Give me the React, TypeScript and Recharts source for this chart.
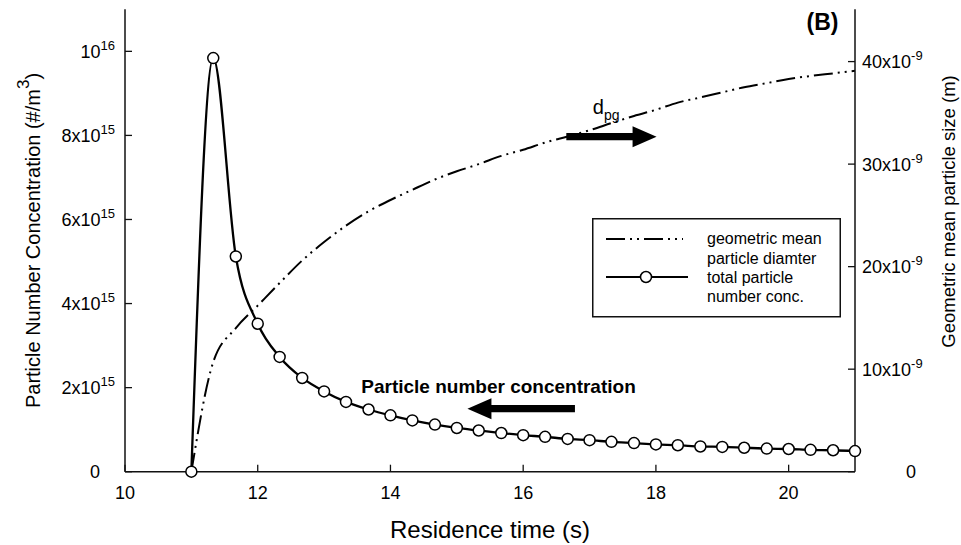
import React from 'react';
import {
  ComposedChart,
  Line,
  XAxis,
  YAxis,
  Legend,
  ReferenceLine,
  ReferenceDot,
} from 'recharts';

// ---- data ----
// residence time (s)
const times = [
  11, 11.33, 11.67, 12, 12.33, 12.67, 13, 13.33, 13.67, 14, 14.33, 14.67, 15, 15.33, 15.67,
  16, 16.33, 16.67, 17, 17.33, 17.67, 18, 18.33, 18.67, 19, 19.33, 19.67, 20, 20.33, 20.67, 21,
];
// total particle number concentration, x10^15 #/m3
const numberConc = [
  0, 9.84, 5.12, 3.52, 2.73, 2.23, 1.91, 1.66, 1.48, 1.34, 1.22, 1.12, 1.04, 0.98, 0.92,
  0.87, 0.83, 0.78, 0.75, 0.71, 0.68, 0.65, 0.63, 0.6, 0.59, 0.57, 0.55, 0.54, 0.52, 0.51, 0.49,
];
// geometric mean particle diameter, x10^-9 m
const meanDiameter = [
  0, 10.7, 14.0, 16.2, 18.4, 20.6, 22.4, 24.0, 25.4, 26.5, 27.5, 28.5, 29.3, 30.0, 30.8,
  31.4, 32.1, 32.7, 33.3, 34.0, 34.7, 35.3, 36.0, 36.5, 37.0, 37.5, 37.9, 38.3, 38.6, 38.85, 39.1,
];

// ---- ticks ----
const xTicks = [10, 12, 14, 16, 18, 20];
const leftTicks = [0, 2, 4, 6, 8, 10];
const leftTickBase = ['0', '2x10', '4x10', '6x10', '8x10', '10'];
const leftTickExp = ['', '15', '15', '15', '15', '16'];
const rightTicks = [0, 10, 20, 30, 40];
const rightTickBase = ['0', '10x10', '20x10', '30x10', '40x10'];
const rightTickExp = ['', '-9', '-9', '-9', '-9'];

// ---- annotations (data coordinates) ----
const concArrow = [
  { x: 16.78, y: 1.5 },
  { x: 15.16, y: 1.5 },
];
const dpgArrow = [
  { x: 16.65, y: 7.97 },
  { x: 18.01, y: 7.97 },
];
const concText = { x: 13.56, y: 1.864, text: 'Particle number concentration' };
const dpgText = { x: 17.05, y: 8.51, main: 'd', sub: 'pg' };
const panelText = { x: 20.75, y: 10.5, text: '(B)' };

const legendLines1 = ['geometric mean', 'particle diamter'];
const legendLines2 = ['total particle', 'number conc.'];

const FONT = '"Liberation Sans", Arial, Helvetica, sans-serif';
const DASH = '19 5 2 5 2 5';

const data = times.map((t, i) => ({ t, conc: numberConc[i], dpg: meanDiameter[i] }));

const LeftTick = (props: any) => {
  const { x, y, payload } = props;
  const i = leftTicks.indexOf(payload.value);
  if (i < 0) return null;
  const base = leftTickBase[i];
  const exp = leftTickExp[i];
  if (!exp) {
    return (
      <text x={x - 15} y={y + 6.4} textAnchor="end" fontSize={18} fontFamily={FONT} fill="#000">
        {base}
      </text>
    );
  }
  return (
    <text x={x} y={y + 6.4} textAnchor="end" fontSize={18} fontFamily={FONT} fill="#000">
      {base}
      <tspan fontSize={13} dy={-7.7}>
        {exp}
      </tspan>
    </text>
  );
};

const RightTick = (props: any) => {
  const { x, y, payload } = props;
  const i = rightTicks.indexOf(payload.value);
  if (i < 0) return null;
  const base = rightTickBase[i];
  const exp = rightTickExp[i];
  if (!exp) {
    return (
      <text x={x + 49} y={y + 6.4} textAnchor="middle" fontSize={18} fontFamily={FONT} fill="#000">
        {base}
      </text>
    );
  }
  return (
    <text x={x} y={y + 6.4} textAnchor="start" fontSize={18} fontFamily={FONT} fill="#000">
      {base}
      <tspan fontSize={13} dy={-7.7}>
        {exp}
      </tspan>
    </text>
  );
};

const BottomTick = (props: any) => {
  const { x, y, payload } = props;
  return (
    <text x={x} y={y + 12.9} textAnchor="middle" fontSize={18} fontFamily={FONT} fill="#000">
      {payload.value}
    </text>
  );
};

const LeftTitle = (props: any) => {
  const vb = props.viewBox || { x: 25, y: 9.3, width: 100, height: 462.4 };
  const cx = vb.x + 15;
  const cy = vb.y + vb.height / 2;
  return (
    <text
      transform={`translate(${cx}, ${cy}) rotate(-90)`}
      x={0}
      y={0}
      textAnchor="middle"
      fontSize={20}
      fontFamily={FONT}
      fill="#000"
    >
      Particle Number Concentration (#/m
      <tspan fontSize={17} dy={-11}>
        3
      </tspan>
      <tspan dy={11}>)</tspan>
    </text>
  );
};

const RightTitle = (props: any) => {
  const vb = props.viewBox || { x: 855, y: 9.3, width: 100, height: 462.4 };
  const cx = vb.x + 100;
  const cy = vb.y + vb.height / 2 - 29;
  return (
    <text
      transform={`translate(${cx}, ${cy}) rotate(-90)`}
      x={0}
      y={0}
      textAnchor="middle"
      fontSize={18.5}
      fontFamily={FONT}
      fill="#000"
    >
      Geometric mean particle size (m)
    </text>
  );
};

const BottomTitle = (props: any) => {
  const vb = props.viewBox || { x: 125, y: 471.7, width: 730, height: 60 };
  return (
    <text
      x={vb.x + vb.width / 2}
      y={vb.y + 66.6}
      textAnchor="middle"
      fontSize={24}
      fontFamily={FONT}
      fill="#000"
    >
      Residence time (s)
    </text>
  );
};

const ArrowShape = (props: any) => {
  const { x1, y1, x2, y2 } = props;
  if ([x1, y1, x2, y2].some((v) => typeof v !== 'number' || isNaN(v))) return null;
  const dir = Math.sign(x2 - x1) || 1;
  const head = 24;
  const hh = 10.5;
  const sh = 3.7;
  const bx = x2 - dir * head;
  const pts = [
    [x1, y1 - sh],
    [bx, y1 - sh],
    [bx, y1 - hh],
    [x2, y2],
    [bx, y1 + hh],
    [bx, y1 + sh],
    [x1, y1 + sh],
  ]
    .map((p) => p.join(','))
    .join(' ');
  return <polygon points={pts} fill="#000" stroke="none" />;
};

const ConcLabel = (props: any) => (
  <text x={props.cx} y={props.cy} fontSize={19} fontWeight="bold" fontFamily={FONT} fill="#000">
    {concText.text}
  </text>
);

const DpgLabel = (props: any) => (
  <text x={props.cx} y={props.cy} fontSize={20} fontFamily={FONT} fill="#000">
    {dpgText.main}
    <tspan fontSize={14} dy={6}>
      {dpgText.sub}
    </tspan>
  </text>
);

const PanelLabel = (props: any) => (
  <text
    x={props.cx}
    y={props.cy}
    textAnchor="end"
    fontSize={23}
    fontWeight="bold"
    fontFamily={FONT}
    fill="#000"
  >
    {panelText.text}
  </text>
);

const LegendBox = () => (
  <svg width={250} height={100} style={{ display: 'block', overflow: 'visible' }}>
    <rect x={0.75} y={0.75} width={247.5} height={98} fill="#fff" stroke="#111" strokeWidth={1.5} />
    <line x1={14} x2={91} y1={21} y2={21} stroke="#000" strokeWidth={2} strokeDasharray={DASH} />
    <line x1={14} x2={96} y1={59} y2={59} stroke="#000" strokeWidth={2} />
    <circle cx={54} cy={59} r={5.5} fill="#fff" stroke="#000" strokeWidth={1.5} />
    <text x={115} y={26} fontSize={16} fontFamily={FONT} fill="#000">
      {legendLines1[0]}
    </text>
    <text x={115} y={46} fontSize={16} fontFamily={FONT} fill="#000">
      {legendLines1[1]}
    </text>
    <text x={115} y={64.5} fontSize={16} fontFamily={FONT} fill="#000">
      {legendLines2[0]}
    </text>
    <text x={115} y={84} fontSize={16} fontFamily={FONT} fill="#000">
      {legendLines2[1]}
    </text>
  </svg>
);

export default function App() {
  const axisLine = { stroke: '#111', strokeWidth: 1.5 };
  const tickLine = { stroke: '#111', strokeWidth: 1.3 };
  return (
    <div
      style={{
        position: 'absolute',
        left: 0,
        top: 0,
        width: 961,
        height: 545,
        background: '#fff',
        fontFamily: FONT,
      }}
    >
      <ComposedChart
        width={961}
        height={545}
        data={data}
        margin={{ top: 9.3, right: 6, bottom: 13.3, left: 25 }}
      >
        <XAxis
          dataKey="t"
          type="number"
          domain={[10, 21]}
          ticks={xTicks}
          interval={0}
          height={60}
          tickSize={-7}
          tickMargin={21}
          axisLine={axisLine}
          tickLine={tickLine}
          tick={<BottomTick />}
          label={<BottomTitle />}
        />
        <XAxis
          xAxisId="top"
          orientation="top"
          type="number"
          domain={[10, 21]}
          height={0}
          tick={false}
          tickLine={false}
          axisLine={axisLine}
        />
        <YAxis
          yAxisId="left"
          type="number"
          domain={[0, 11]}
          ticks={leftTicks}
          interval={0}
          width={100}
          tickSize={-7}
          tickMargin={17}
          axisLine={axisLine}
          tickLine={tickLine}
          tick={<LeftTick />}
          label={<LeftTitle />}
        />
        <YAxis
          yAxisId="right"
          orientation="right"
          type="number"
          domain={[0, 45.1]}
          ticks={rightTicks}
          interval={0}
          width={100}
          tickSize={-7}
          tickMargin={14}
          axisLine={axisLine}
          tickLine={tickLine}
          tick={<RightTick />}
          label={<RightTitle />}
        />
        <Legend
          layout="horizontal"
          align="center"
          verticalAlign="middle"
          content={<LegendBox />}
          wrapperStyle={{ left: 592, top: 218, width: 250, height: 100 }}
        />
        <Line
          yAxisId="right"
          dataKey="dpg"
          name="geometric mean particle diamter"
          type="monotone"
          stroke="#000"
          strokeWidth={2}
          strokeDasharray={DASH}
          dot={false}
          activeDot={false}
          isAnimationActive={false}
        />
        <Line
          yAxisId="left"
          dataKey="conc"
          name="total particle number conc."
          type="monotone"
          stroke="#000"
          strokeWidth={2.3}
          dot={{ r: 5.5, fill: '#fff', stroke: '#000', strokeWidth: 1.5 }}
          activeDot={false}
          isAnimationActive={false}
        />
        <ReferenceLine yAxisId="left" segment={concArrow} shape={<ArrowShape />} />
        <ReferenceLine yAxisId="left" segment={dpgArrow} shape={<ArrowShape />} />
        <ReferenceDot yAxisId="left" x={concText.x} y={concText.y} r={0} shape={<ConcLabel />} />
        <ReferenceDot yAxisId="left" x={dpgText.x} y={dpgText.y} r={0} shape={<DpgLabel />} />
        <ReferenceDot yAxisId="left" x={panelText.x} y={panelText.y} r={0} shape={<PanelLabel />} />
      </ComposedChart>
    </div>
  );
}
